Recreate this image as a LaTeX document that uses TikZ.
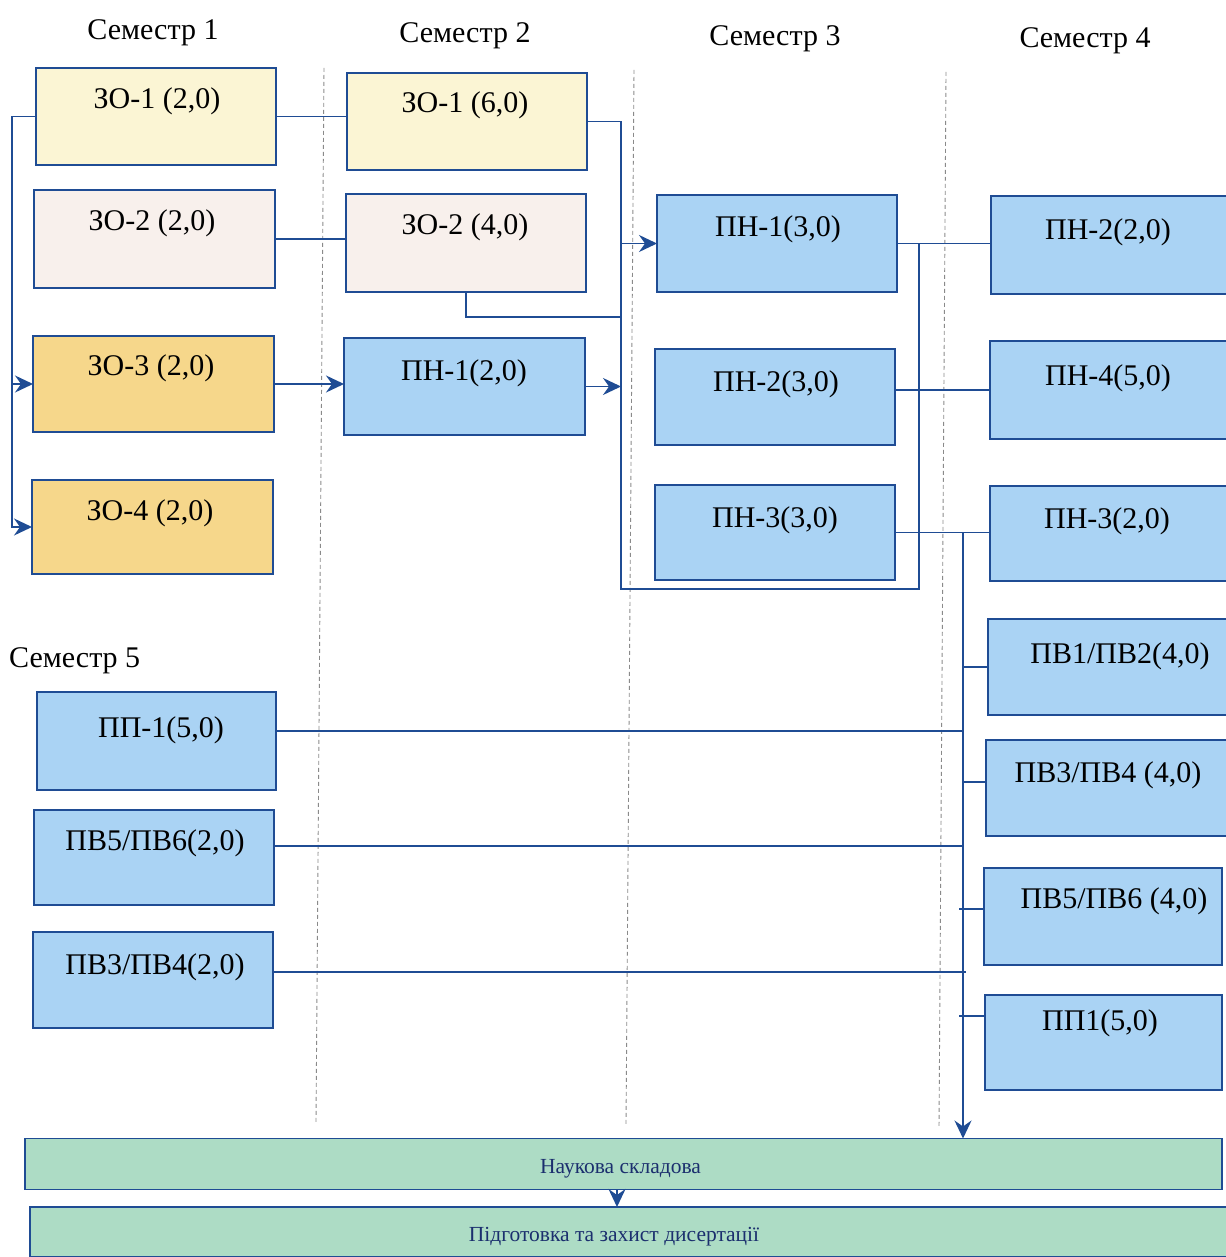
\documentclass[tikz,border=0pt]{standalone}
\usepackage{fontspec}
\setmainfont{Liberation Serif}
\usetikzlibrary{arrows.meta,calc}
\definecolor{bord}{HTML}{1F4C94}
\definecolor{yel}{HTML}{FBF5D4}
\definecolor{pnk}{HTML}{F8F0EC}
\definecolor{gld}{HTML}{F6D78B}
\definecolor{blu}{HTML}{AAD3F4}
\definecolor{grn}{HTML}{ADDCC5}
\definecolor{dsh}{HTML}{8A8A8A}
\definecolor{navy}{HTML}{1B2F6E}
\tikzset{
  box/.style={draw=bord, line width=1.9pt, rectangle, inner sep=0pt, outer sep=0pt},
  lbl/.style={anchor=center, font=\fontsize{30}{32}\selectfont, inner sep=0pt},
  hdr/.style={font=\fontsize{30}{32}\selectfont, inner sep=0pt},
  ln/.style={draw=bord, line width=1.9pt},
  arr/.style={ln, -{Stealth[length=18pt,width=17pt,inset=6pt]}},
  sep/.style={draw=dsh, line width=0.9pt, dash pattern=on 4pt off 3pt},
  bar/.style={box, fill=grn, text=navy, font=\fontsize{21.5}{23}\selectfont}
}
\newcommand\bx[9]{\node[box,fill=#6,minimum width=#4pt-#2pt,minimum height=#5pt-#3pt,
 label={[lbl,xshift={(#7-(#2+#4)/2)*1pt},yshift={(#3-#8-3)*1pt}]north:#9}] (#1) at ({(#2+#4)/2},{(#3+#5)/2}) {};}
\begin{document}
\begin{tikzpicture}[x=1pt,y=-1pt]
\useasboundingbox (0,0) rectangle (1225,1257);
% separators
\draw[sep] (324,68) -- (316,1122);
\draw[sep] (634,70) -- (626,1125);
\draw[sep] (946,72) -- (939,1128);
% headers
\node[hdr] (h1) at (153,33) {Семестр 1};
\node[hdr] (h2) at (465,36) {Семестр 2};
\node[hdr] (h3) at (775,39) {Семестр 3};
\node[hdr] (h4) at (1085,41) {Семестр 4};
\node[hdr,anchor=west] (h5) at (9,661) {Семестр 5};
% semester 1
\bx{s1a}{36}{68}{276}{165}{yel}{157}{98}{ЗО-1 (2,0)}
\bx{s1b}{34}{190}{275}{288}{pnk}{152}{220}{ЗО-2 (2,0)}
\bx{s1c}{33}{336}{274}{432}{gld}{151}{365}{ЗО-3 (2,0)}
\bx{s1d}{32}{480}{273}{574}{gld}{150}{510}{ЗО-4 (2,0)}
% semester 2
\bx{s2a}{347}{73}{587}{170}{yel}{465}{102}{ЗО-1 (6,0)}
\bx{s2b}{346}{194}{586}{292}{pnk}{465}{224}{ЗО-2 (4,0)}
\bx{s2c}{344}{338}{585}{435}{blu}{464}{370}{ПН-1(2,0)}
% semester 3
\bx{s3a}{657}{195}{897}{292}{blu}{778}{226}{ПН-1(3,0)}
\bx{s3b}{655}{349}{895}{445}{blu}{776}{381}{ПН-2(3,0)}
\bx{s3c}{655}{485}{895}{580}{blu}{775}{517}{ПН-3(3,0)}
% semester 4
\bx{s4a}{991}{196}{1230}{294}{blu}{1108}{229}{ПН-2(2,0)}
\bx{s4b}{990}{341}{1230}{439}{blu}{1108}{375}{ПН-4(5,0)}
\bx{s4c}{990}{486}{1230}{581}{blu}{1107}{518}{ПН-3(2,0)}
\bx{s4d}{988}{619}{1230}{715}{blu}{1120}{653}{ПВ1/ПВ2(4,0)}
\bx{s4e}{986}{740}{1230}{836}{blu}{1108}{772}{ПВ3/ПВ4 (4,0)}
\bx{s4f}{984}{868}{1222}{965}{blu}{1114}{898}{ПВ5/ПВ6 (4,0)}
\bx{s4g}{985}{995}{1222}{1090}{blu}{1100}{1020}{ПП1(5,0)}
% semester 5
\bx{s5a}{37}{692}{276}{790}{blu}{161}{727}{ПП-1(5,0)}
\bx{s5b}{34}{810}{274}{905}{blu}{155}{840}{ПВ5/ПВ6(2,0)}
\bx{s5c}{33}{932}{273}{1028}{blu}{155}{964}{ПВ3/ПВ4(2,0)}
% bars
\node[bar,minimum width=1197pt,minimum height=51pt] (nauk) at (623.5,1164) {\raisebox{-9pt}[0pt][0pt]{\hspace{-6pt}Наукова складова}};
\node[bar,minimum width=1200pt,minimum height=50pt] (pid) at (630,1232) {\raisebox{-9pt}[0pt][0pt]{\hspace{-32pt}Підготовка та захист дисертації}};
% coordinates
\coordinate (lv) at (12,0);
\coordinate (m1) at (621,589);
\coordinate (r1) at (919,589);
\coordinate (j2) at (621,317);
\coordinate (v2) at (963,0);
\coordinate (b5) at (963,782);
\coordinate (b6) at (959,909);
\coordinate (b7) at (959,1016);
\coordinate (e1) at (963,731);
\coordinate (e2) at (963,846);
\coordinate (e3) at (966,972);
\coordinate (a9) at (617,0);
% connectors semester 1
\draw[arr] (s1a.west) -| (lv |- s1d.west) -- (s1d.west);
\draw[arr] (lv |- s1c.west) -- (s1c.west);
\draw[ln] (s1a.east) -- (s1a.east -| s2a.west);
\draw[ln] (s1b.east) -- (s1b.east -| s2b.west);
\draw[arr] (s1c.east) -- (s1c.east -| s2c.west);
% semester 2 -> 3
\draw[ln] (s2a.east) -| (m1) -- (r1) |- (s3a.east);
\draw[arr] (m1 |- s3a.west) -- (s3a.west);
\draw[ln] (s2b.south) |- (j2);
\draw[arr] (s2c.east) -- (s2c.east -| m1);
% semester 3 -> 4
\draw[ln] (s3a.east) -- (s3a.east -| s4a.west);
\draw[ln] (s3b.east |- s4b.west) -- (s4b.west);
\draw[ln] (s3c.east) -- (s3c.east -| s4c.west);
\draw[arr] (v2 |- s3c.east) -- (v2 |- nauk.north);
\draw[ln] (v2 |- s4d.west) -- (s4d.west);
\draw[ln] (b5) -- (b5 -| s4e.west);
\draw[ln] (b6) -- (b6 -| s4f.west);
\draw[ln] (b7) -- (b7 -| s4g.west);
% semester 5
\draw[ln] (s5a.east |- e1) -- (e1);
\draw[ln] (s5b.east |- e2) -- (e2);
\draw[ln] (s5c.east |- e3) -- (e3);
% bottom
\draw[arr] (a9 |- nauk.south) -- (a9 |- pid.north);
\end{tikzpicture}
\end{document}
